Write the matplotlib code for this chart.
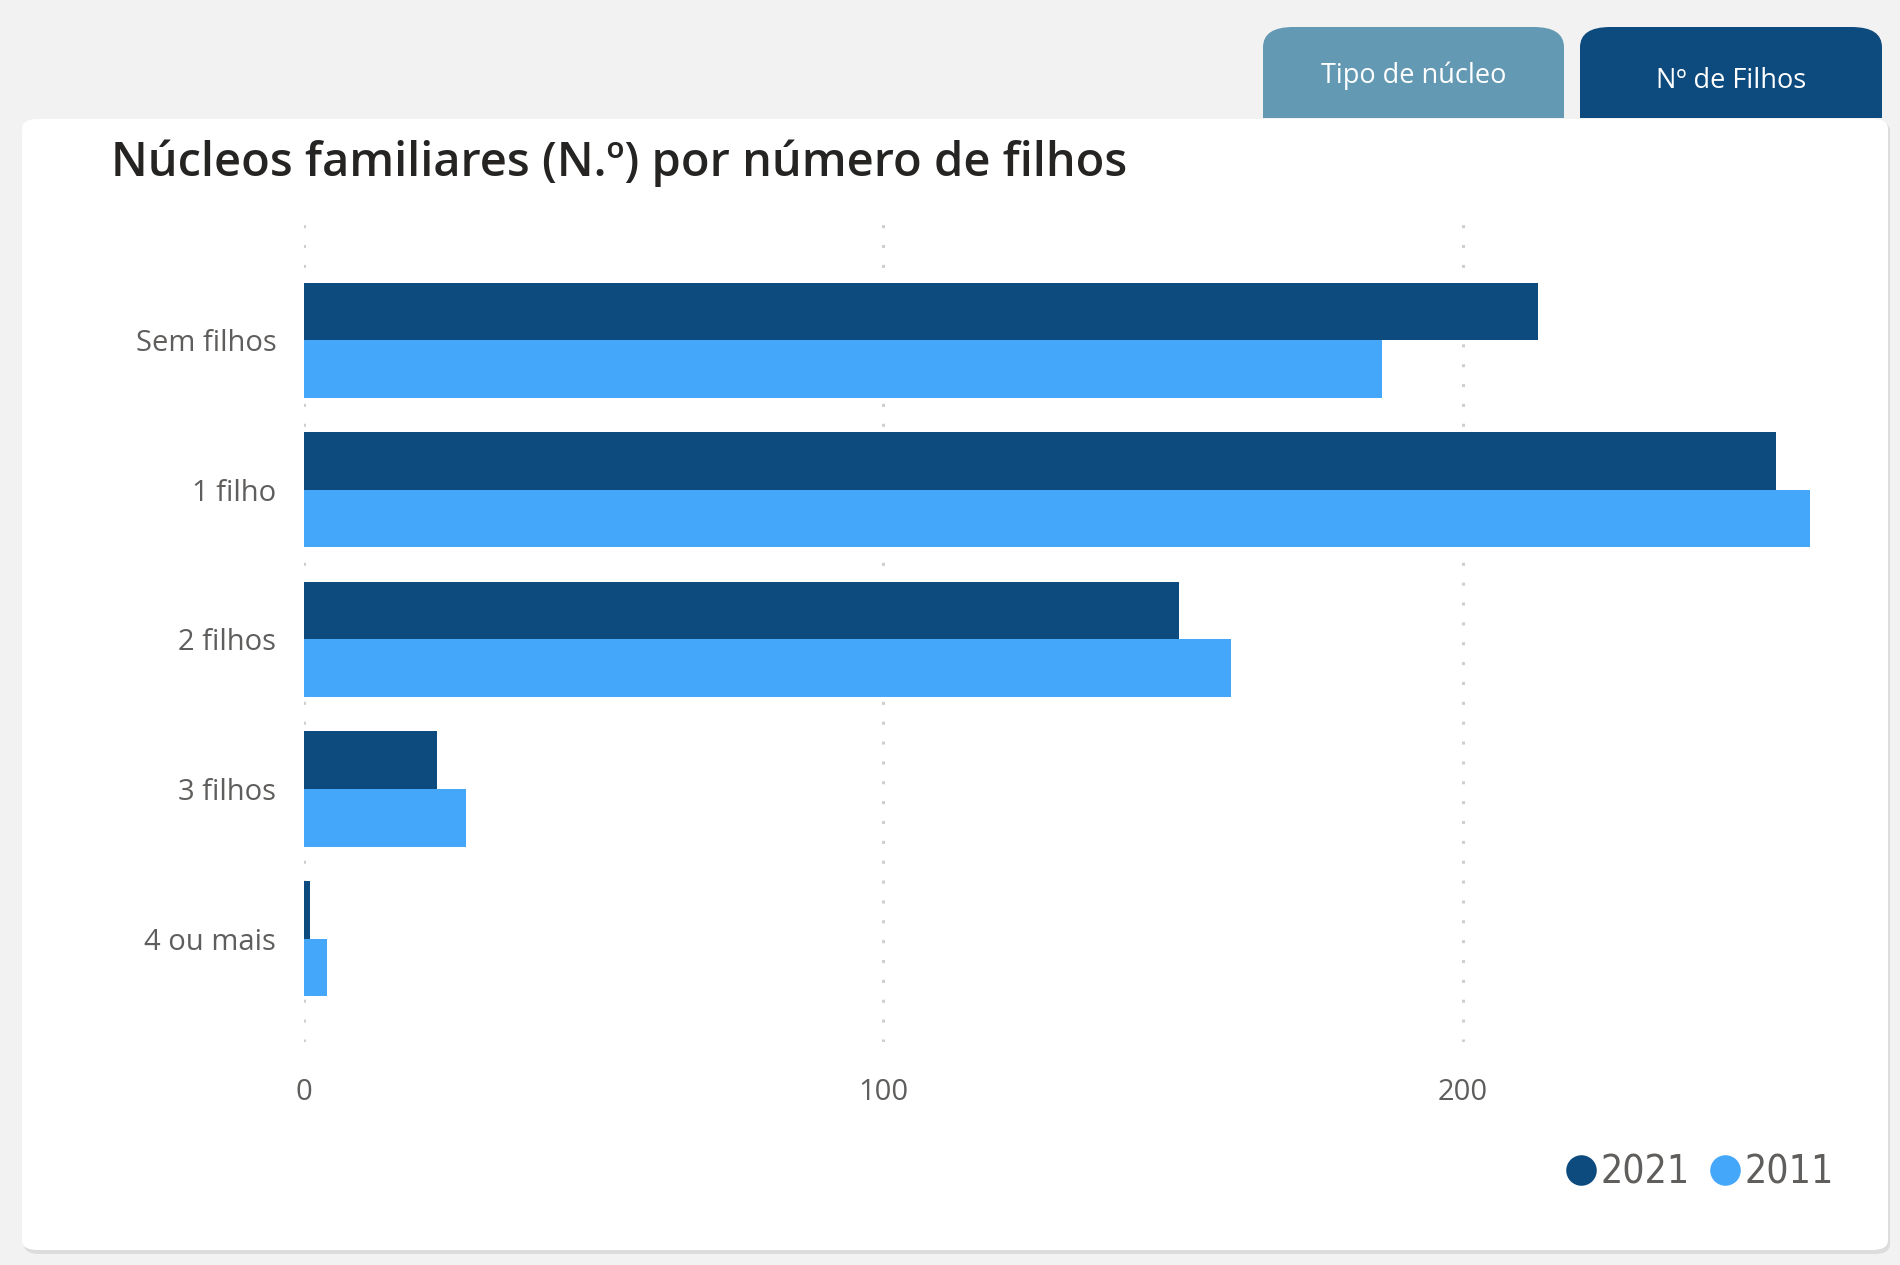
import matplotlib
matplotlib.use("Agg")
import matplotlib.pyplot as plt
from matplotlib import font_manager
from matplotlib.font_manager import FontProperties
from matplotlib.patches import FancyBboxPatch, Rectangle
from matplotlib.lines import Line2D
import numpy as np

categories = ["Sem filhos", "1 filho", "2 filhos", "3 filhos", "4 ou mais"]
values_2021 = [213, 254, 151, 23, 1]
values_2011 = [186, 260, 160, 28, 4]
series_labels = ["2021", "2011"]
xticks = [0, 100, 200]
title = "Núcleos familiares (N.º) por número de filhos"
tab_labels = ["Tipo de núcleo", "Nº de Filhos"]

names = {f.name for f in font_manager.fontManager.ttflist}
main_font = "Open Sans" if "Open Sans" in names else "DejaVu Sans"

# narrow font for legend
cands = []
for f in font_manager.fontManager.ttflist:
    fn = f.fname.lower()
    if ("narrow" in fn or "condensed" in fn) and "bold" not in fn and "italic" not in fn \
            and "oblique" not in fn and "mono" not in fn and "serif" not in fn.replace("sans", ""):
        cands.append(f.fname)
cands.sort(key=lambda s: (0 if "liberation" in s.lower() else 1, s))
if cands:
    narrow_fp = FontProperties(fname=cands[0], size=28)
else:
    narrow_fp = FontProperties(family="Liberation Sans", size=25)

c2021 = "#0d4a7e"
c2011 = "#44a7fa"
W, H = 1900, 1265
fig = plt.figure(figsize=(W / 100, H / 100), dpi=100)
fig.patch.set_facecolor("#f2f2f2")

def fx(px):
    return px / W

def fy(py):
    return 1 - py / H

# card shadow + card
shadow = FancyBboxPatch((fx(24), fy(1254)), fx(1866), (1254 - 121) / H,
                        boxstyle="round,pad=0,rounding_size=0.008",
                        transform=fig.transFigure, facecolor="#dcdcdc",
                        edgecolor="none", zorder=0)
fig.add_artist(shadow)
card = FancyBboxPatch((fx(22), fy(1250)), fx(1866), (1250 - 119) / H,
                      boxstyle="round,pad=0,rounding_size=0.008",
                      transform=fig.transFigure, facecolor="white",
                      edgecolor="none", zorder=1)
fig.add_artist(card)

# tabs
tabs = [(1263, 1564, "#6399b3"), (1580, 1882, "#0d4a7e")]
for (x0, x1, col), lab in zip(tabs, tab_labels):
    p = FancyBboxPatch((fx(x0), fy(118)), fx(x1 - x0), (118 - 27) / H,
                       boxstyle="round,pad=0,rounding_size=0.016",
                       transform=fig.transFigure, facecolor=col,
                       edgecolor="none", zorder=2)
    fig.add_artist(p)
    r = Rectangle((fx(x0), fy(118)), fx(x1 - x0), 40 / H,
                  transform=fig.transFigure, facecolor=col,
                  edgecolor="none", zorder=2)
    fig.add_artist(r)
ty = [76, 81]
for (x0, x1, col), lab, yy in zip(tabs, tab_labels, ty):
    fig.text(fx((x0 + x1) / 2), fy(yy), lab, color="white", fontsize=19.5,
             ha="center", va="center", family=main_font, zorder=3)

# title, sized to match target width
t = fig.text(fx(111), fy(176), title, fontsize=34, color="#252423",
             family=main_font, weight="semibold", ha="left", va="baseline", zorder=3)
renderer = fig.canvas.get_renderer()
wpx = t.get_window_extent(renderer).width
t.set_fontsize(34 * 1018 / wpx)

# axes
ax = fig.add_axes([fx(304), fy(1042), fx(1812 - 304), (1042 - 224) / H])
ax.set_zorder(3)
ax.patch.set_alpha(0)
y = np.arange(len(categories))
h = 0.385
ax.barh(y - h / 2, values_2021, height=h, color=c2021, label=series_labels[0], zorder=3)
ax.barh(y + h / 2, values_2011, height=h, color=c2011, label=series_labels[1], zorder=3)
ax.set_xlim(0, 260.3)
ax.set_ylim(len(categories) - 1 + 0.69, -0.776)
ax.set_yticks(y)
ax.set_yticklabels(categories, fontsize=21, color="#605e5c", family=main_font)
ax.set_xticks(xticks)
ax.set_xticklabels([str(v) for v in xticks], fontsize=21, color="#605e5c", family=main_font)
ax.tick_params(axis="both", length=0)
ax.tick_params(axis="y", pad=20)
ax.tick_params(axis="x", pad=26)
for s in ax.spines.values():
    s.set_visible(False)
ax.xaxis.grid(True, color="#cfcfcf", linestyle=(0, (1, 5.5)), linewidth=2.2, zorder=0)
ax.set_axisbelow(True)

handles = [Line2D([], [], marker="o", linestyle="none", markersize=22,
                  markerfacecolor=c, markeredgecolor="none") for c in (c2021, c2011)]
fig.legend(handles, series_labels, loc="center right",
           bbox_to_anchor=(fx(1869), fy(1173)), ncol=2, frameon=False,
           prop=narrow_fp, handletextpad=0.0,
           columnspacing=0.4, labelcolor="#605e5c", handlelength=1.0)

fig.savefig("out.png", dpi=100, facecolor=fig.get_facecolor())
